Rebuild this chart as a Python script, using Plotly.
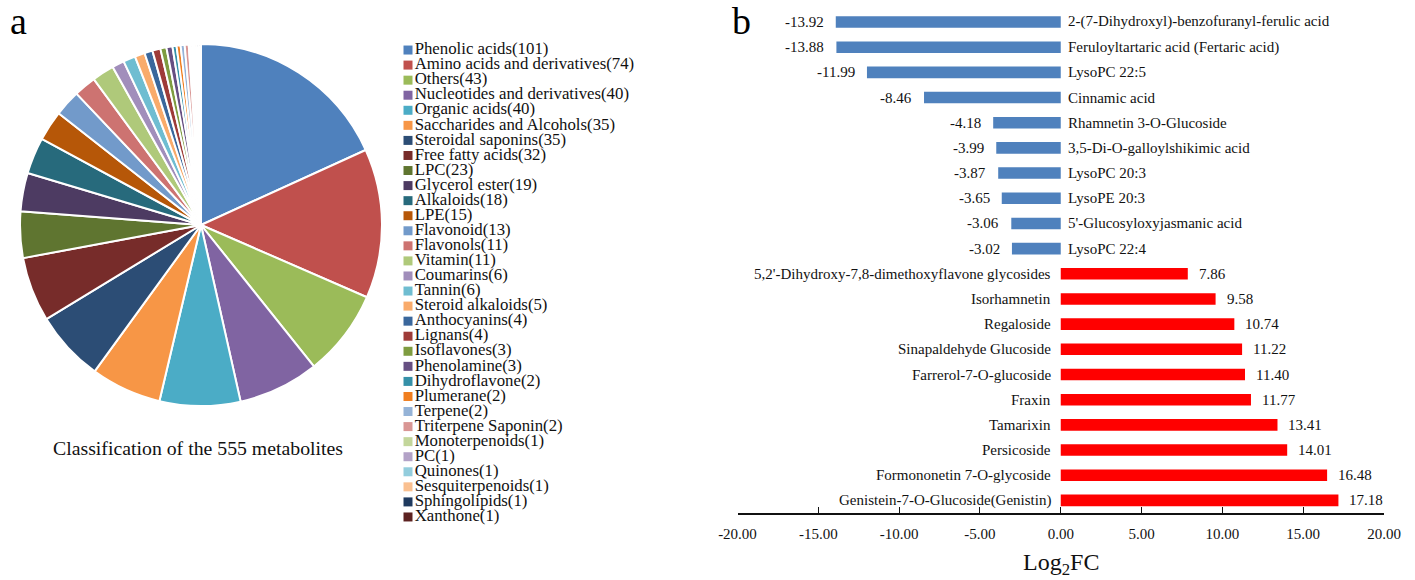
import plotly.graph_objects as go

W, H = 1415, 580
FONT = "Times New Roman, Liberation Serif, serif"

# ---- panel a: metabolite classes ----
classes = [
    "Phenolic acids", "Amino acids and derivatives", "Others",
    "Nucleotides and derivatives", "Organic acids", "Saccharides and Alcohols",
    "Steroidal saponins", "Free fatty acids", "LPC", "Glycerol ester",
    "Alkaloids", "LPE", "Flavonoid", "Flavonols", "Vitamin", "Coumarins",
    "Tannin", "Steroid alkaloids", "Anthocyanins", "Lignans", "Isoflavones",
    "Phenolamine", "Dihydroflavone", "Plumerane", "Terpene",
    "Triterpene Saponin", "Monoterpenoids", "PC", "Quinones",
    "Sesquiterpenoids", "Sphingolipids", "Xanthone",
]
counts = [101, 74, 43, 40, 40, 35, 35, 32, 23, 19, 18, 15, 13, 11, 11, 6,
          6, 5, 4, 4, 3, 3, 2, 2, 2, 2, 1, 1, 1, 1, 1, 1]
class_colors = [
    "#4F81BD", "#C0504D", "#9BBB59", "#8064A2", "#4BACC6", "#F79646",
    "#2C4D75", "#772C2A", "#5F7530", "#4D3B62", "#276A7C", "#B65708",
    "#729ACA", "#CD7371", "#AFC97A", "#A18EBB", "#6FBDD1", "#F9AB6B",
    "#3A679C", "#9E3B38", "#7E9C40", "#664F82", "#3590A8", "#F07E1F",
    "#95B3D7", "#D99694", "#C3D69B", "#B3A2C7", "#93CDDD", "#FAC090",
    "#1F3A5F", "#5C2221",
]

# ---- panel b: differential metabolites ----
metabolites = [
    "2-(7-Dihydroxyl)-benzofuranyl-ferulic acid",
    "Feruloyltartaric acid (Fertaric acid)",
    "LysoPC 22:5",
    "Cinnamic acid",
    "Rhamnetin 3-O-Glucoside",
    "3,5-Di-O-galloylshikimic acid",
    "LysoPC 20:3",
    "LysoPE 20:3",
    "5'-Glucosyloxyjasmanic acid",
    "LysoPC 22:4",
    "5,2'-Dihydroxy-7,8-dimethoxyflavone glycosides",
    "Isorhamnetin",
    "Regaloside",
    "Sinapaldehyde Glucoside",
    "Farrerol-7-O-glucoside",
    "Fraxin",
    "Tamarixin",
    "Persicoside",
    "Formononetin 7-O-glycoside",
    "Genistein-7-O-Glucoside(Genistin)",
]
log2fc = [-13.92, -13.88, -11.99, -8.46, -4.18, -3.99, -3.87, -3.65, -3.06,
          -3.02, 7.86, 9.58, 10.74, 11.22, 11.40, 11.77, 13.41, 14.01,
          16.48, 17.18]
x_ticks = [-20, -15, -10, -5, 0, 5, 10, 15, 20]

DOWN_COLOR = "#4F81BD"
UP_COLOR = "#FF0000"


def px_x(p):
    return p / W


def px_y(p):
    return 1 - p / H


fig = go.Figure()

# pie chart
fig.add_trace(go.Pie(
    labels=[f"{c}({n})" for c, n in zip(classes, counts)],
    values=counts,
    sort=False,
    direction="clockwise",
    rotation=0,
    marker=dict(colors=class_colors, line=dict(color="white", width=2)),
    textinfo="none",
    showlegend=False,
    domain=dict(x=[px_x(20), px_x(382)], y=[px_y(406), px_y(44)]),
))

# legend column for the pie, drawn as a marker+text series
fig.add_trace(go.Scatter(
    x=[0] * len(classes),
    y=list(range(len(classes))),
    mode="markers+text",
    marker=dict(symbol="square", size=9, color=class_colors),
    text=[f"{c}({n})" for c, n in zip(classes, counts)],
    textposition="middle right",
    textfont=dict(family=FONT, size=16.8, color="#111"),
    cliponaxis=False,
    hoverinfo="skip",
    showlegend=False,
    xaxis="x2", yaxis="y2",
))

# bar chart
bar_colors = [DOWN_COLOR if v < 0 else UP_COLOR for v in log2fc]
fig.add_trace(go.Bar(
    x=log2fc,
    y=metabolites,
    orientation="h",
    marker=dict(color=bar_colors, line=dict(width=0)),
    width=0.46,
    showlegend=False,
    hoverinfo="x+y",
))

annotations = []
for name, v in zip(metabolites, log2fc):
    neg = v < 0
    # metabolite name on the opposite side of zero
    annotations.append(dict(
        x=0, y=name, xref="x", yref="y", text=name, showarrow=False,
        xanchor="left" if neg else "right", yanchor="middle",
        xshift=5 if neg else -8,
        font=dict(family=FONT, size=15, color="#111"),
    ))
    # value beyond the end of the bar
    annotations.append(dict(
        x=v, y=name, xref="x", yref="y", text=f"{v:.2f}", showarrow=False,
        xanchor="right" if neg else "left", yanchor="middle",
        xshift=-10 if neg else 9,
        font=dict(family=FONT, size=15, color="#111"),
    ))

annotations += [
    dict(x=px_x(18), y=px_y(21), xref="paper", yref="paper", text="a",
         xanchor="center", yanchor="middle", showarrow=False,
         font=dict(family=FONT, size=38, color="#000")),
    dict(x=px_x(741), y=px_y(21), xref="paper", yref="paper", text="b",
         xanchor="center", yanchor="middle", showarrow=False,
         font=dict(family=FONT, size=38, color="#000")),
    dict(x=px_x(198), y=px_y(448), xref="paper", yref="paper",
         text="Classification of the 555 metabolites", showarrow=False,
         xanchor="center", yanchor="middle",
         font=dict(family=FONT, size=19.8, color="#111")),
    dict(x=px_x(1061), y=px_y(564), xref="paper", yref="paper",
         text="Log<sub>2</sub>FC", showarrow=False,
         xanchor="center", yanchor="middle",
         font=dict(family=FONT, size=24, color="#111")),
]

fig.update_layout(
    width=W, height=H,
    margin=dict(l=0, r=0, t=0, b=0, autoexpand=False),
    paper_bgcolor="white", plot_bgcolor="white",
    font=dict(family=FONT, color="#111"),
    showlegend=False,
    annotations=annotations,
    xaxis=dict(
        domain=[px_x(737.5), px_x(1384)],
        range=[-20, 20],
        tickvals=x_ticks, ticktext=[f"{t:.2f}" for t in x_ticks],
        ticks="inside", ticklen=6, tickwidth=1.3, tickcolor="#111",
        ticklabelstandoff=6,
        showline=True, linecolor="#111", linewidth=1.5,
        showgrid=False, zeroline=False,
        tickfont=dict(family=FONT, size=15, color="#111"),
        anchor="y",
    ),
    yaxis=dict(
        domain=[px_y(513), px_y(9.4)],
        autorange="reversed",
        showticklabels=False, showgrid=False, zeroline=False,
        showline=False, ticks="",
        anchor="x",
    ),
    xaxis2=dict(
        domain=[px_x(400), px_x(416)], range=[-1, 1],
        visible=False, anchor="y2",
    ),
    yaxis2=dict(
        domain=[px_y(524.5), px_y(42.5)],
        range=[len(classes) - 0.5, -0.5],
        visible=False, anchor="x2",
    ),
)

fig.write_html("out.html")
